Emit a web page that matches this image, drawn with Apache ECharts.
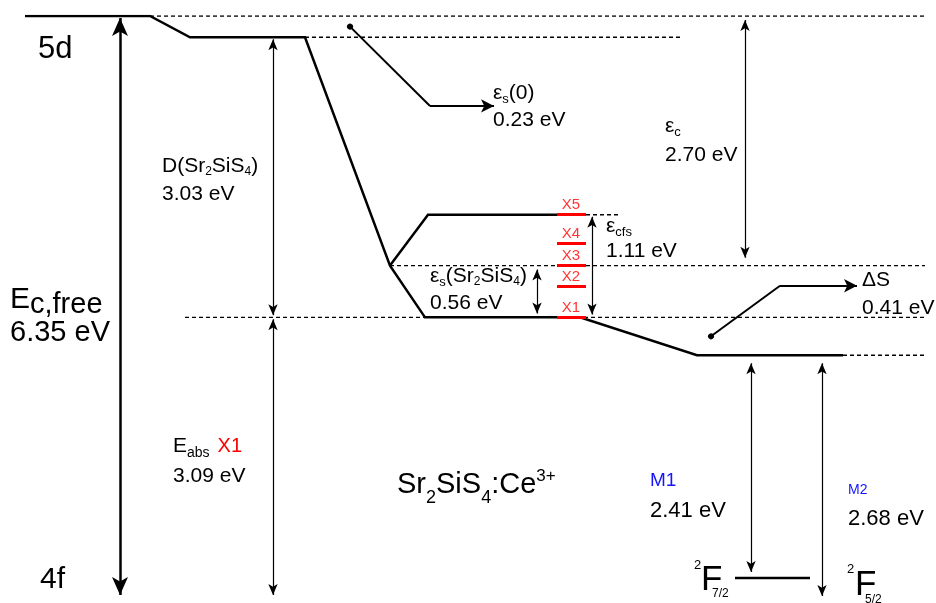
<!DOCTYPE html>
<html>
<head>
<meta charset="utf-8">
<script src="https://cdn.jsdelivr.net/npm/echarts@6/dist/echarts.min.js"></script>
<style>
  html, body { margin: 0; padding: 0; background: #fff; }
  #chart { width: 936px; height: 603px; }
</style>
</head>
<body>
<div id="chart"></div>
<script>
// Ce3+ in Sr2SiS4: energies in eV above the 4f ground state
const freeIonGap = 6.35;          // Ec,free
const centroidShiftFree = 0.23;   // εs(0)
const redshiftD = 3.03;           // D(Sr2SiS4)
const absorptionX1 = 3.09;        // Eabs X1
const centroidShiftHost = 0.56;   // εs(Sr2SiS4)
const crystalFieldSplit = 1.11;   // εcfs
const centroidTotal = 2.70;       // εc
const stokesShift = 0.41;         // ΔS
const emissionM1 = 2.41;
const emissionM2 = 2.68;

// 5d crystal-field levels
const levelNames = ['X1', 'X2', 'X3', 'X4', 'X5'];
const levelEnergies = [3.09, 3.43, 3.65, 3.89, 4.20];

// derived level energies
const eTop = freeIonGap;
const eD0 = eTop - centroidShiftFree;
const eX1 = absorptionX1;
const eCentroid = eX1 + centroidShiftHost;
const eX5 = eX1 + crystalFieldSplit;
const eRelaxed = eX1 - stokesShift;
const eF72 = eRelaxed - emissionM1;
const eGround = 0;

const FONT = '"Liberation Sans", Arial, Helvetica, sans-serif';
const GRID_TOP = 16, GRID_H = 592;
const ePerPx = freeIonGap / GRID_H;

const chart = echarts.init(document.getElementById('chart'), null, { renderer: 'canvas' });

function solid(points, width) {
  return {
    type: 'line', data: points, showSymbol: false, silent: true, z: 3,
    lineStyle: { color: '#000', width: width || 2.5, cap: 'butt', join: 'miter' }
  };
}
function dashed(points) {
  return {
    type: 'line', data: points, showSymbol: false, silent: true, z: 2,
    lineStyle: { color: '#000', width: 1.4, type: [4, 3] }
  };
}
// vertical double arrow between two levels; gaps (px) between each level and the arrow tip
function vArrow(x, eA, eB, gapA, gapB, head) {
  const dir = eB > eA ? 1 : -1;
  const a = eA + dir * gapA * ePerPx;
  const b = eB - dir * gapB * ePerPx;
  return { coords: [[x, a], [x, b]], symbolSize: [head, head] };
}

const thinHead = [7, 11];
const arrowsThin = [
  vArrow(273, eD0, eX1, 2, 2, thinHead),
  vArrow(273, eX1, eGround, 2, 8, thinHead),
  vArrow(745, eTop, eCentroid, 4, 8, thinHead),
  vArrow(592, eX5, eX1, 2, 3, thinHead),
  vArrow(537, eCentroid, eX1, 4, 4, thinHead),
  vArrow(751, eRelaxed, eF72, 8, 6, thinHead),
  vArrow(822, eRelaxed, eGround, 8, 7, thinHead)
];
const bigHead = [12, 18];
const arrowBig = [vArrow(120, eTop, eGround, 2, 8, bigHead)];

// callouts: dot at the middle of a gap, bent leader ending in an arrow
function callout(x0, eA, eB, xCorner, dyPx, xEnd) {
  const mid = (eA + eB) / 2;
  const eC = mid - dyPx * ePerPx;
  return [
    { coords: [[x0, mid], [xCorner, eC]], symbol: ['circle', 'none'], symbolSize: [6, 6] },
    { coords: [[xCorner, eC], [xEnd, eC]], symbol: ['none', 'arrow'], symbolSize: [[10, 13], [10, 13]] }
  ];
}
const callouts = [].concat(
  callout(350, eTop, eD0, 430, 80, 494),
  callout(711, eX1, eRelaxed, 780, -51, 857)
);

// text helpers
const meas = document.createElement('canvas').getContext('2d');
function textW(t, s) { meas.font = s + 'px ' + FONT; return meas.measureText(t).width; }
function run(x, baseline, parts, color) {
  const out = [];
  let cx = x;
  parts.forEach(p => {
    const [t, s, dy, dx] = p;
    cx += dx || 0;
    out.push({
      type: 'text', x: cx, y: baseline + (dy || 0) - 0.347 * s, silent: true,
      style: { text: t, fontSize: s, fontFamily: FONT, fill: p[4] || color || '#000', align: 'left', verticalAlign: 'middle' }
    });
    cx += textW(t, s);
  });
  return out;
}
const ev = v => v.toFixed(2) + ' eV';
const B = 21, S = 13;

const texts = [].concat(
  run(38, 60, [['5d', 31]]),
  run(40, 590, [['4f', 30]]),
  run(10, 310, [['E', 30], ['c,free', 29, 5]]),
  run(10, 343, [[ev(freeIonGap), 29]]),
  run(162, 173, [['D(Sr', B], ['2', 12, 3], ['SiS', B], ['4', 12, 3], [')', B]]),
  run(162, 201, [[ev(redshiftD), B]]),
  run(493, 100, [['ε', B], ['s', S, 4], ['(0)', B]]),
  run(493, 127, [[ev(centroidShiftFree), B]]),
  run(665, 133, [['ε', B], ['c', S, 4]]),
  run(665, 162, [[ev(centroidTotal), B]]),
  run(606, 233, [['ε', B], ['cfs', S, 4]]),
  run(606, 258, [[ev(crystalFieldSplit), B]]),
  run(430, 283, [['ε', B], ['s', S, 4], ['(Sr', B], ['2', 12, 3], ['SiS', B], ['4', 12, 3], [')', B]]),
  run(430, 310, [[ev(centroidShiftHost), B]]),
  run(862, 287, [['ΔS', B]]),
  run(862, 315, [[ev(stokesShift), B]]),
  run(173, 453, [['E', B], ['abs', 14, 5], ['X1', 20, 0, 8, '#ff0000']]),
  run(173, 483, [[ev(absorptionX1), B]]),
  run(650, 487, [['M1', 19]], '#1414ff'),
  run(650, 519, [[ev(emissionM1), 22]]),
  run(848, 495, [['M2', 14]], '#1414ff'),
  run(848, 527, [[ev(emissionM2), 22]]),
  run(397, 495, [['Sr', 29], ['2', 18, 9], ['SiS', 29], ['4', 18, 9], [':Ce', 29], ['3+', 17, -13]]),
  run(694, 570, [['2', 13]]),
  run(701, 592, [['F', 35]]),
  run(712, 598, [['7/2', 12]]),
  run(847, 574, [['2', 13]]),
  run(855, 597, [['F', 35]]),
  run(865, 604, [['5/2', 12]])
);

const option = {
  animation: false,
  backgroundColor: '#fff',
  grid: { left: 0, top: GRID_TOP, width: 936, height: GRID_H, containLabel: false },
  xAxis: { type: 'value', min: 0, max: 936, show: false },
  yAxis: { type: 'value', min: 0, max: freeIonGap, show: false },
  series: [
    // free-ion 5d -> centroid -> lowest 5d -> relaxed level
    solid([[25, eTop], [150, eTop], [190, eD0], [305, eD0], [390, eCentroid],
           [425, eX1], [580, eX1], [697, eRelaxed], [843, eRelaxed]]),
    // centroid -> top of the crystal-field manifold
    solid([[390, eCentroid], [428, eX5], [557, eX5]]),
    // 2F7/2 level
    solid([[735, eF72], [810, eF72]]),
    dashed([[150, eTop], [925, eTop]]),
    dashed([[305, eD0], [680, eD0]]),
    dashed([[586, eX5], [620, eX5]]),
    dashed([[390, eCentroid], [925, eCentroid]]),
    dashed([[185, eX1], [925, eX1]]),
    dashed([[843, eRelaxed], [925, eRelaxed]]),
    {
      type: 'lines', coordinateSystem: 'cartesian2d', silent: true, z: 4,
      symbol: ['arrow', 'arrow'],
      lineStyle: { color: '#000', width: 1.2, opacity: 1, curveness: 0 },
      data: arrowsThin
    },
    {
      type: 'lines', coordinateSystem: 'cartesian2d', silent: true, z: 4,
      symbol: ['arrow', 'arrow'],
      lineStyle: { color: '#000', width: 2.5, opacity: 1, curveness: 0 },
      data: arrowBig
    },
    {
      type: 'lines', coordinateSystem: 'cartesian2d', silent: true, z: 4,
      lineStyle: { color: '#000', width: 2, opacity: 1, curveness: 0 },
      data: callouts
    },
    // red crystal-field levels X1..X5
    {
      type: 'lines', coordinateSystem: 'cartesian2d', silent: true, z: 5,
      symbol: ['none', 'none'],
      lineStyle: { color: '#ff0000', width: 3, opacity: 1 },
      data: levelEnergies.map(e => ({ coords: [[557, e], [586, e]] }))
    },
    {
      type: 'scatter', silent: true, z: 6, symbolSize: 0,
      data: levelEnergies.map((e, i) => ({ value: [571, e], name: levelNames[i] })),
      label: {
        show: true, position: 'top', distance: 2, formatter: '{b}',
        color: '#ff0000', fontSize: 15, fontFamily: FONT
      }
    }
  ],
  graphic: texts
};
chart.setOption(option);
</script>
</body>
</html>
